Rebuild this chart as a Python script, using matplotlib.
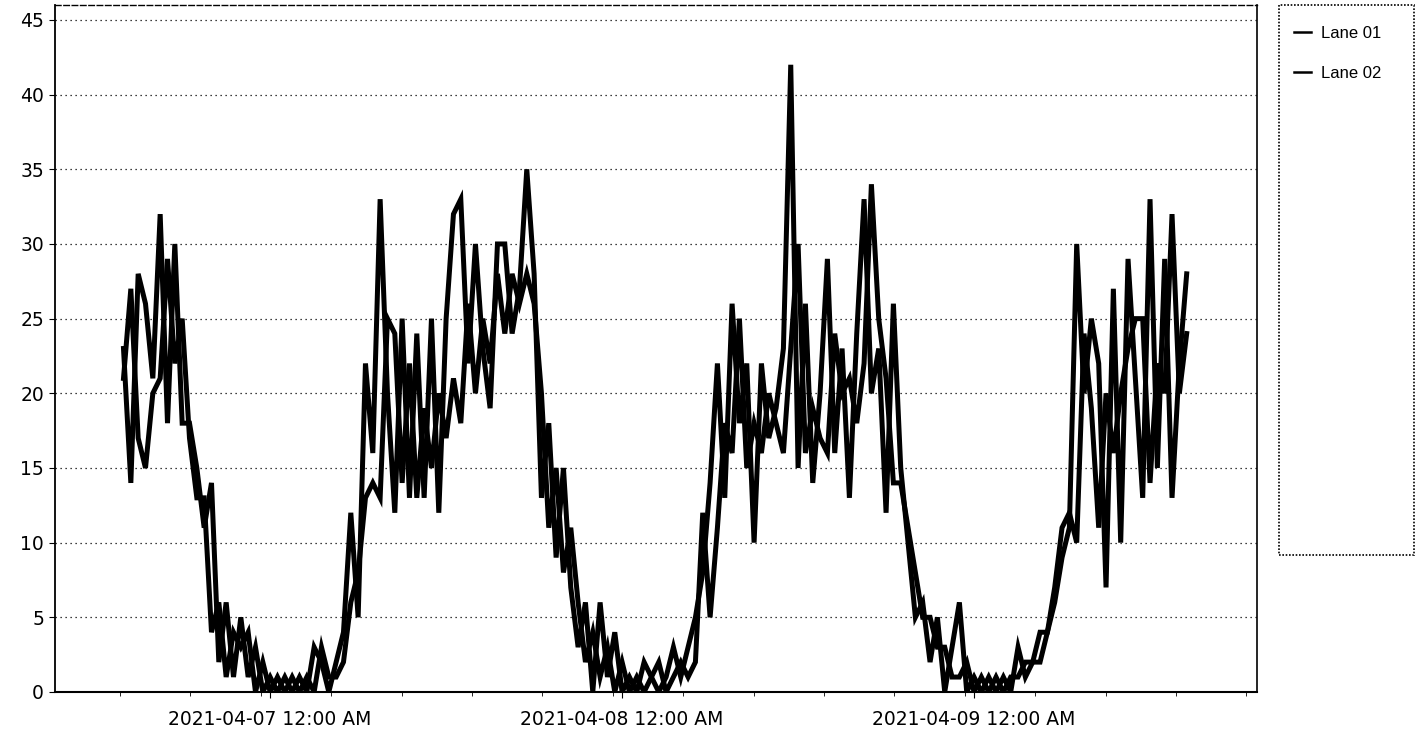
import matplotlib
matplotlib.use("Agg")
import matplotlib.pyplot as plt
import matplotlib.dates as mdates
from matplotlib.patches import Rectangle
import pandas as pd

# 30-minute counts, 2021-04-06 14:00 .. 2021-04-09 14:30
start = "2021-04-06 14:00"
lane_01 = [23, 14, 28, 26, 21, 32, 18, 30, 18, 18,
           15, 11, 14, 2, 6, 1, 5, 1, 3, 0,
           1, 0, 1, 0, 1, 0, 3, 2, 0, 2,
           4, 12, 5, 22, 16, 33, 20, 12, 25, 13,
           24, 13, 25, 12, 25, 32, 33, 22, 30, 23,
           19, 30, 30, 24, 27, 35, 28, 13, 18, 9,
           15, 7, 3, 6, 0, 6, 1, 4, 0, 1,
           0, 2, 1, 0, 1, 3, 1, 3, 5, 8,
           14, 22, 13, 26, 18, 22, 10, 22, 17, 19,
           23, 42, 15, 26, 14, 20, 29, 16, 23, 13,
           24, 33, 20, 23, 12, 26, 15, 10, 5, 6,
           2, 5, 0, 3, 6, 0, 1, 0, 1, 0,
           1, 0, 3, 1, 2, 4, 4, 6, 9, 11,
           30, 20, 25, 22, 7, 27, 10, 29, 21, 13,
           33, 15, 29, 13, 22, 28]
lane_02 = [21, 27, 17, 15, 20, 21, 29, 22, 25, 17,
           13, 13, 4, 6, 1, 4, 3, 4, 0, 2,
           0, 1, 0, 1, 0, 1, 0, 3, 1, 1,
           2, 6, 8, 13, 14, 13, 25, 24, 14, 22,
           13, 19, 15, 20, 17, 21, 18, 26, 20, 25,
           22, 28, 24, 28, 26, 28, 26, 20, 11, 15,
           8, 11, 6, 2, 4, 1, 3, 0, 2, 0,
           1, 0, 1, 2, 0, 1, 2, 1, 2, 12,
           5, 11, 18, 16, 25, 15, 18, 16, 20, 18,
           16, 23, 30, 16, 19, 17, 16, 24, 20, 21,
           18, 22, 34, 25, 21, 14, 14, 11, 8, 5,
           5, 3, 3, 1, 1, 2, 0, 1, 0, 1,
           0, 1, 1, 2, 2, 2, 4, 7, 11, 12,
           10, 24, 19, 11, 20, 16, 20, 23, 25, 25,
           14, 22, 20, 32, 20, 24]
series_names = ["Lane 01", "Lane 02"]
y_ticks = [0, 5, 10, 15, 20, 25, 30, 35, 40, 45]

times = pd.date_range(start, periods=len(lane_01), freq="30min")

fig = plt.figure(figsize=(14.23, 7.40), dpi=100)
ax = fig.add_axes([0.0387, 0.0649, 0.8447, 0.9283])

for vals, name in zip([lane_01, lane_02], series_names):
    ax.plot(times, vals, color="black", lw=3.6, solid_joinstyle="miter", label=name)

ax.set_ylim(0, 46)
ax.set_xlim(pd.Timestamp("2021-04-06 09:20"), pd.Timestamp("2021-04-09 19:18"))
ax.set_yticks(y_ticks)
ax.grid(axis="y", color="black", linestyle=(0, (1, 3)), lw=0.9)

ax.xaxis.set_major_locator(mdates.DayLocator())
ax.xaxis.set_major_formatter(mdates.DateFormatter("%Y-%m-%d 12:00 AM"))
ax.xaxis.set_minor_locator(mdates.MinuteLocator(byminute=range(0, 60, 1), interval=288))
ax.tick_params(axis="x", which="major", length=4, pad=9, labelsize=13.5)
ax.tick_params(axis="x", which="minor", length=3)
ax.tick_params(axis="y", which="major", length=4, labelsize=13.5, pad=4)

ax.spines["left"].set_linewidth(1.3)
ax.spines["top"].set_linestyle((0, (4, 2)))
ax.spines["top"].set_linewidth(1.0)
ax.spines["right"].set_linestyle((0, (1, 1)))
ax.spines["right"].set_linewidth(1.2)
ax.spines["bottom"].set_linestyle((0, (1, 1)))
ax.spines["bottom"].set_linewidth(1.5)

# tall legend box on the right
box = Rectangle((0.8988, 0.25), 0.0949, 0.7432, transform=fig.transFigure,
                fill=False, edgecolor="black", lw=1.2, linestyle=(0, (1, 1)))
fig.patches.append(box)
leg = fig.legend(loc="upper left", bbox_to_anchor=(0.899, 0.985), frameon=False,
                 handlelength=1.0, handletextpad=0.6, labelspacing=1.5,
                 prop={"family": "Liberation Sans", "size": 12})
for h in leg.get_lines():
    h.set_linewidth(1.8)

fig.savefig("out.png", dpi=100)
